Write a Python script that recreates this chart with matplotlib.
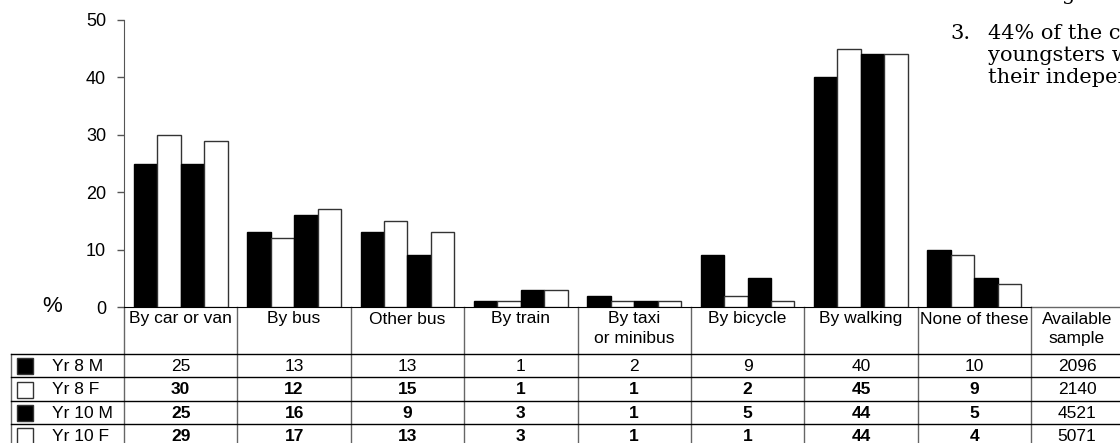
import matplotlib
matplotlib.use("Agg")
import matplotlib.pyplot as plt
from matplotlib.patches import Rectangle

# ---- data ----
categories = ["By car or van", "By bus", "Other bus", "By train",
              "By taxi\nor minibus", "By bicycle", "By walking", "None of these"]
series_names = ["Yr 8 M", "Yr 8 F", "Yr 10 M", "Yr 10 F"]
yr8_m = [25, 13, 13, 1, 2, 9, 40, 10]
yr8_f = [30, 12, 15, 1, 1, 2, 45, 9]
yr10_m = [25, 16, 9, 3, 1, 5, 44, 5]
yr10_f = [29, 17, 13, 3, 1, 1, 44, 4]
samples = [2096, 2140, 4521, 5071]
y_ticks = [0, 10, 20, 30, 40, 50]

series = [yr8_m, yr8_f, yr10_m, yr10_f]
fills = ["black", "white", "black", "white"]
edges = ["black", "#333333", "black", "#333333"]

W, H = 1120, 443
fig = plt.figure(figsize=(W / 100, H / 100), dpi=100)
plt.rcParams['font.family'] = ['Liberation Sans', 'DejaVu Sans']
FS = 12.5

# pixel layout
ax_left, ax_right, ax_bottom, ax_top = 124, 1031, 307, 20
ax = fig.add_axes([ax_left / W, 1 - ax_bottom / H, (ax_right - ax_left) / W, (ax_bottom - ax_top) / H])
ax.set_xlim(0, len(categories))
ax.set_ylim(0, 50)
bw = 0.207
for k, vals in enumerate(series):
    xs = [i + 0.5 + (k - 1.5) * bw for i in range(len(categories))]
    ax.bar(xs, vals, width=bw, color=fills[k], edgecolor=edges[k], linewidth=1.0, zorder=3)
for s in ["top", "right"]:
    ax.spines[s].set_visible(False)
ax.spines["left"].set_color("#555555")
ax.spines["bottom"].set_color("black")
ax.set_yticks(y_ticks)
ax.set_xticks([])
ax.tick_params(axis="y", direction="out", length=4.8, width=1, color="#555555",
               labelsize=13, pad=8)
ax.patch.set_alpha(0)

# table overlay in pixel coordinates
tax = fig.add_axes([0, 0, 1, 1], zorder=-1)
tax.set_xlim(0, W)
tax.set_ylim(H, 0)
tax.axis("off")

colw = (ax_right - ax_left) / len(categories)
edges_x = [ax_left + i * colw for i in range(len(categories) + 1)]
head_top, head_bot = 307, 354
rowh = 23.4
row_tops = [head_bot + r * rowh for r in range(len(series_names) + 1)]
vc = "#666666"
# vertical lines
for xe in edges_x:
    tax.plot([xe, xe], [head_top, H + 5], color=vc, lw=1)
tax.plot([11, 11], [head_bot, H + 5], color=vc, lw=1)
# avail box top
tax.plot([ax_right, W], [head_top, head_top], color=vc, lw=1)
# horizontal lines
for yt in row_tops[:-1]:
    tax.plot([11, W], [yt, yt], color="black", lw=1)

# header texts
for i, c in enumerate(categories):
    tax.text((edges_x[i] + edges_x[i + 1]) / 2, 311.5, c, ha="center", va="top",
             fontsize=FS, linespacing=1.4)
tax.text(1077, 311.5, "Available\nsample", ha="center", va="top", fontsize=FS, linespacing=1.4)

# rows
for r, name in enumerate(series_names):
    yc = row_tops[r] + rowh / 2 + 0.5
    tax.add_patch(Rectangle((17, yc - 8), 16, 16, facecolor=fills[r],
                            edgecolor="#333333", lw=1))
    tax.text(52, yc, name, ha="left", va="center", fontsize=FS)
    for i, v in enumerate(series[r]):
        tax.text((edges_x[i] + edges_x[i + 1]) / 2, yc, str(v), ha="center", va="center",
                 fontsize=FS, fontweight="bold" if r > 0 else "normal")
    tax.text(1077, yc, str(samples[r]), ha="center", va="center", fontsize=FS)

tax.text(52, 306, "%", ha="center", va="center", fontsize=16)

# cropped serif body text at top right
serif = ["DejaVu Serif"]
SF = 15
tax.text(1062, 0, "g", ha="left", va="baseline", fontsize=SF, family=serif)
tax.text(950, 39, "3.", ha="left", va="baseline", fontsize=SF, family=serif)
tax.text(988, 39, "44% of the children", ha="left", va="baseline", fontsize=SF, family=serif)
tax.text(988, 61, "youngsters who", ha="left", va="baseline", fontsize=SF, family=serif)
tax.text(988, 83, "their independence", ha="left", va="baseline", fontsize=SF, family=serif)

fig.savefig("out.png", dpi=100)
